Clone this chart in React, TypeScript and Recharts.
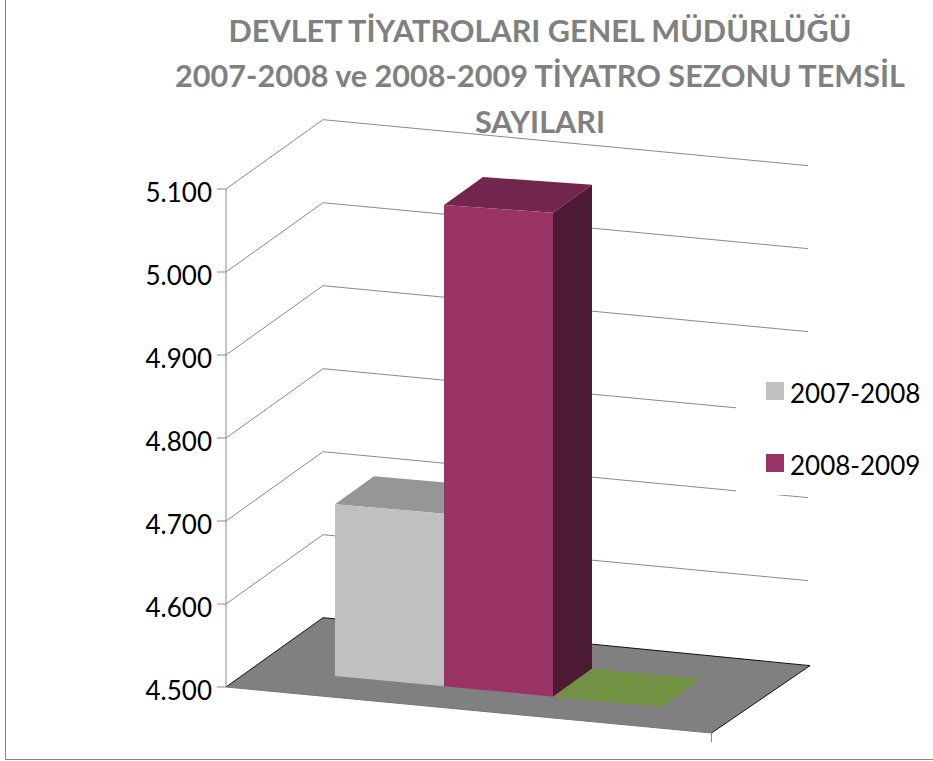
import React from 'react';
import { BarChart, Bar, XAxis, YAxis, CartesianGrid, Legend } from 'recharts';

const titleLines = ['DEVLET TİYATROLARI GENEL MÜDÜRLÜĞÜ', '2007-2008 ve 2008-2009 TİYATRO SEZONU TEMSİL', 'SAYILARI'];
const categories = ['Temsil Sayısı'];
const season0708 = [4707];
const season0809 = [5080];
const floorSeries = [4500];
const yTicks = [4500, 4600, 4700, 4800, 4900, 5000, 5100];

const data = categories.map((name, i) => ({
  name,
  '2007-2008': season0708[i],
  '2008-2009': season0809[i],
  other: floorSeries[i],
}));

const FONT = 'Lato, sans-serif';
const GRID = '#8a8a8a';

// oblique view of the 3D box: how far the floor recedes and how the front edge falls
const AXIS_X = 226;
const BACK_DX = 97;
const BACK_DY = -69.3;
const WALL_W = 485;
const SLOPE = 0.0947;
const BAR_DX = 30;
const BAR_DY = -18.5;
const DEPTH_X = 39;
const DEPTH_Y = -28;

const pts = (list: number[][]) => list.map((p) => p.join(',')).join(' ');

function GridLine(props: any) {
  const { y1: y, index } = props;
  const bx = AXIS_X + BACK_DX;
  const by = y + BACK_DY;
  const ex = bx + WALL_W;
  const ey = by + WALL_W * SLOPE;
  if (index === 0) {
    return (
      <g>
        <polygon
          points={pts([
            [AXIS_X, y],
            [bx, by],
            [ex + 2, ey + 2],
            [711.5, 733],
          ])}
          fill="#808080"
        />
        <polyline points={pts([[AXIS_X, y], [bx, by], [ex + 2, ey + 2], [711.5, 733]])} fill="none" stroke="#111" strokeWidth={1} />
        <line x1={711.5} y1={733} x2={711.5} y2={742} stroke={GRID} />
        <line x1={AXIS_X} y1={y} x2={711.5} y2={733} stroke="#777" />
      </g>
    );
  }
  return <polyline points={pts([[AXIS_X, y], [bx, by], [ex, ey]])} fill="none" stroke={GRID} strokeWidth={1} />;
}

function Box3D(props: any) {
  const { x, y, width, height, front, top, side } = props;
  const drop = (px: number) => SLOPE * (px - AXIS_X) + BAR_DY;
  const base = y + height;
  const topSlope = SLOPE - 0.000045 * height;
  const x0 = x + BAR_DX;
  const x1 = x0 + width;
  const yTop0 = y + drop(x);
  const yTop1 = yTop0 + width * topSlope;
  const yBase0 = base + drop(x);
  const yBase1 = base + drop(x + width);
  return (
    <g>
      <polygon
        points={pts([
          [x0, yTop0],
          [x0 + DEPTH_X, yTop0 + DEPTH_Y],
          [x1 + DEPTH_X, yTop1 + DEPTH_Y],
          [x1, yTop1],
        ])}
        fill={top}
      />
      {height > 0 && (
        <polygon
          points={pts([
            [x1, yTop1],
            [x1 + DEPTH_X, yTop1 + DEPTH_Y],
            [x1 + DEPTH_X, yBase1 + DEPTH_Y],
            [x1, yBase1],
          ])}
          fill={side}
        />
      )}
      {height > 0 && (
        <polygon
          points={pts([
            [x0, yTop0],
            [x1, yTop1],
            [x1, yBase1],
            [x0, yBase0],
          ])}
          fill={front}
        />
      )}
    </g>
  );
}

function AxisTick(props: any) {
  const { y, payload } = props;
  const label = payload.value.toLocaleString('de-DE');
  return (
    <g>
      <line x1={217} y1={y} x2={AXIS_X} y2={y} stroke={GRID} />
      <text x={212} y={y + 13} textAnchor="end" fontFamily={FONT} fontSize={26} fill="#000">
        {label}
      </text>
    </g>
  );
}

function SeasonLegend({ payload }: any) {
  const items = (payload || []).filter((item: any) => item.type !== 'none' && item.value !== 'other');
  return (
    <div style={{ width: 197, height: 123, background: '#fff', position: 'relative', fontFamily: FONT, fontSize: 26, color: '#000' }}>
      {items.map((item: any, i: number) => (
        <div key={item.value} style={{ position: 'absolute', left: 30, top: 5 + i * 72, height: 32, lineHeight: '32px', whiteSpace: 'nowrap' }}>
          <span style={{ position: 'absolute', left: 0, top: 5, width: 18, height: 18, background: item.color }} />
          <span style={{ marginLeft: 24 }}>{item.value}</span>
        </div>
      ))}
      <div style={{ position: 'absolute', left: 0, top: 123, width: 40, height: 3, background: '#fff' }} />
    </div>
  );
}

export default function App() {
  return (
    <div style={{ position: 'absolute', left: 0, top: 0, width: 933, height: 761, background: '#fff', overflow: 'hidden' }}>
      <div style={{ position: 'absolute', left: 5, top: 0, width: 928, height: 759, borderLeft: '1px solid #868686', borderBottom: '1px solid #868686' }} />
      <div style={{ position: 'absolute', left: 0, top: 0 }}>
        <BarChart
          width={933}
          height={761}
          data={data}
          barSize={109}
          barGap={0}
          margin={{ top: 189, right: 222, bottom: 74, left: 0 }}
        >
          <CartesianGrid vertical={false} horizontal={(p: any) => <GridLine key={p.key} {...p} />} />
          <XAxis dataKey="name" hide />
          <YAxis
            width={226}
            domain={[4500, 5100]}
            ticks={yTicks}
            interval={0}
            stroke={GRID}
            tickLine={false}
            tick={<AxisTick />}
          />
          <Legend
            layout="horizontal"
            align="center"
            verticalAlign="middle"
            wrapperStyle={{ left: 736, top: 372, width: 197, height: 126 }}
            content={<SeasonLegend />}
          />
          <Bar dataKey="2007-2008" fill="#c0c0c0" isAnimationActive={false} shape={<Box3D front="#c0c0c0" top="#969696" side="#6e6e6e" />} />
          <Bar dataKey="2008-2009" fill="#993366" isAnimationActive={false} shape={<Box3D front="#993366" top="#73264d" side="#4d1a33" />} />
          <Bar dataKey="other" fill="#739142" legendType="none" isAnimationActive={false} shape={<Box3D front="#739142" top="#739142" side="#739142" />} />
        </BarChart>
      </div>
      {titleLines.map((line, i) => (
        <div
          key={line}
          style={{
            position: 'absolute',
            left: 0,
            width: 1080,
            top: [13, 58, 104][i],
            lineHeight: '36px',
            textAlign: 'center',
            whiteSpace: 'nowrap',
            fontFamily: FONT,
            fontWeight: 700,
            fontSize: 30.6,
            color: '#808080',
          }}
        >
          {line}
        </div>
      ))}
    </div>
  );
}
